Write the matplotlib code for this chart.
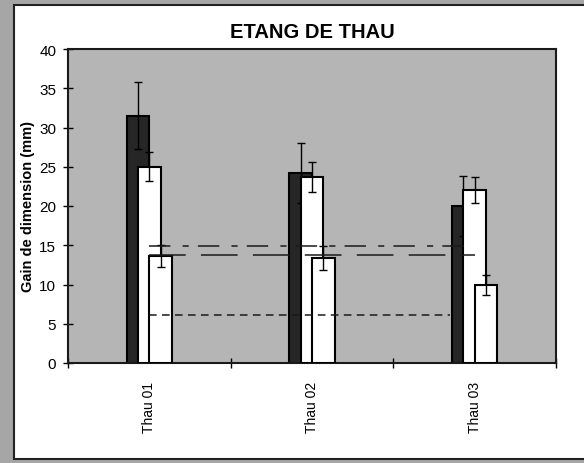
import matplotlib
matplotlib.use("Agg")
import matplotlib.pyplot as plt
from matplotlib.patches import Rectangle
import numpy as np

plt.rcParams['font.family'] = ['Liberation Sans', 'DejaVu Sans']

# data
sites = ['Thau 01', 'Thau 02', 'Thau 03']
serie_a = [31.5, 24.2, 20.0]      # dark bars
err_a = [4.3, 3.8, 3.8]
serie_b = [25.0, 23.7, 22.0]      # first white bars
err_b = [1.85, 1.95, 1.65]
serie_c = [13.6, 13.4, 9.9]       # second white bars
err_c = [1.4, 1.5, 1.25]

# reference levels (value, start, end in category units)
ref_levels = [14.9, 13.7, 6.1]
ref_start = [0.0, 0.0, 0.0]
ref_end = [1.95, 2.0, 1.85]

fig = plt.figure(figsize=(5.84, 4.64), dpi=100)
fig.patch.set_facecolor('#a6a6a6')
# white chart area with its frame
fig.patches.append(Rectangle((14 / 584, 1 - 460 / 464), 1.0, (460 - 6) / 464,
                             transform=fig.transFigure, facecolor='white',
                             edgecolor='#222222', linewidth=1.5, zorder=-5))

ax = fig.add_axes([68 / 584, 1 - 364 / 464, (556 - 68) / 584, (364 - 50) / 464])
ax.set_facecolor('#b5b5b5')

x = np.arange(len(sites))
w = 0.14
off = 0.07
ekw = dict(ecolor='black', elinewidth=1, capsize=3, capthick=1)

ax.bar(x - off, serie_a, w, color='#262626', edgecolor='black', linewidth=1.5, zorder=2)
ax.errorbar(x - off, serie_a, yerr=err_a, fmt='none', zorder=2.1, **ekw)
ax.bar(x, serie_b, w, color='white', edgecolor='black', linewidth=1.5, zorder=3)
ax.errorbar(x, serie_b, yerr=err_b, fmt='none', zorder=3.1, **ekw)
ax.bar(x + off, serie_c, w, color='white', edgecolor='black', linewidth=1.5, zorder=4)
ax.errorbar(x + off, serie_c, yerr=err_c, fmt='none', zorder=4.1, **ekw)

styles = [(0, (14, 8, 4, 6)), (0, (24, 10)), (0, (5, 3.5))]
for lvl, s, e, ls in zip(ref_levels, ref_start, ref_end, styles):
    ax.hlines(lvl, s, e, colors='#1a1a1a', linewidth=1.1, linestyles=[ls], zorder=5)

ax.set_xlim(-0.5, 2.5)
ax.set_ylim(0, 40)
ax.set_yticks(np.arange(0, 41, 5))
ax.tick_params(axis='y', direction='inout', length=7, width=1, labelsize=11, pad=5)

ax.set_xticks([-0.5, 0.5, 1.5, 2.5])
ax.set_xticklabels([])
ax.set_xticks(x, minor=True)
ax.set_xticklabels(sites, minor=True, rotation=90, fontsize=10)
ax.tick_params(axis='x', which='major', direction='inout', length=7, width=1)
ax.tick_params(axis='x', which='minor', length=0, pad=13)

for sp in ax.spines.values():
    sp.set_linewidth(1.5)
    sp.set_color('#1a1a1a')

ax.set_title('ETANG DE THAU', fontsize=14.5, fontweight='bold', pad=9)
ax.set_ylabel('Gain de dimension (mm)', fontsize=10.5, fontweight='bold')
ax.yaxis.set_label_coords(-0.068, 0.5)

plt.savefig('out.png', dpi=100, facecolor=fig.get_facecolor())
